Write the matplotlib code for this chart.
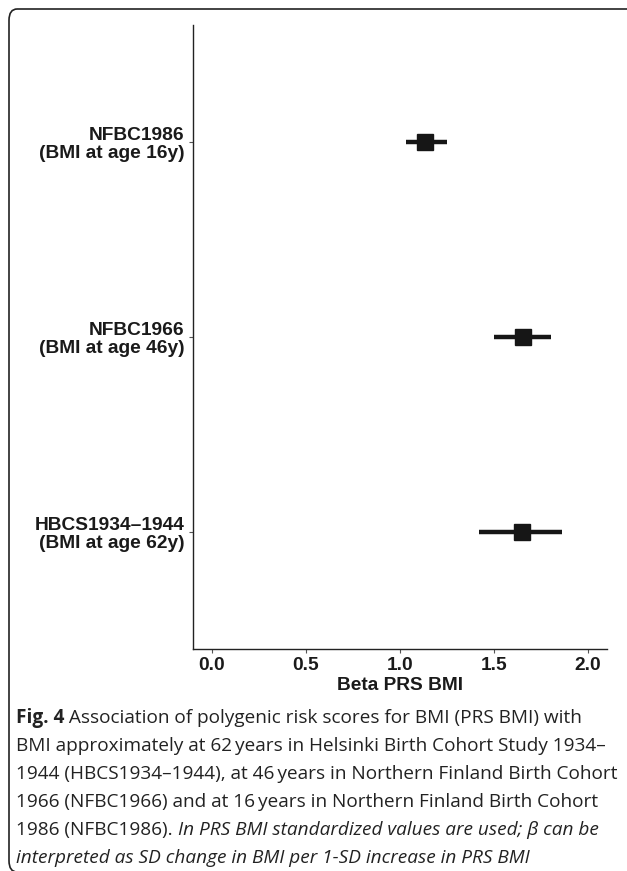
import matplotlib
matplotlib.use("Agg")
from matplotlib import pyplot as plt
from matplotlib.patches import FancyBboxPatch
import numpy as np

# data (top to bottom)
cohorts = ["NFBC1986\n(BMI at age 16y)",
           "NFBC1966\n(BMI at age 46y)",
           "HBCS1934\u20131944\n(BMI at age 62y)"]
beta = [1.135, 1.652, 1.646]
ci_low = [1.03, 1.50, 1.42]
ci_high = [1.25, 1.80, 1.86]
xticks = [0.0, 0.5, 1.0, 1.5, 2.0]

W, H = 627, 871
fig = plt.figure(figsize=(W / 100, H / 100), dpi=100)

# rounded frame around the whole figure (open to the right / bottom)
frame = FancyBboxPatch((9 / W, 1 - 872 / H), (640 - 9) / W, (872 - 9) / H,
                       boxstyle="round,pad=0,rounding_size=0.013",
                       transform=fig.transFigure, fill=False,
                       edgecolor="#222222", linewidth=1.2, clip_on=False)
fig.patches.append(frame)

ax = fig.add_axes([193 / W, 1 - 649 / H, (607 - 193) / W, (649 - 25) / H])
ypos = np.arange(len(cohorts), 0, -1)  # 3, 2, 1 from top

ax.hlines(ypos, ci_low, ci_high, color="#161616", linewidth=3.2)
ax.plot(beta, ypos, "s", color="#161616", markersize=11, linestyle="none")

ax.set_xlim(-0.1, 2.1)
ax.set_ylim(0.4, 3.6)
ax.set_xticks(xticks)
ax.set_xticklabels([f"{t:.1f}" for t in xticks])
ax.set_yticks(ypos)
ax.set_yticklabels(cohorts, linespacing=1.1)

lab_font = dict(family="Liberation Sans", weight="bold", size=13.8)
for lab in ax.get_xticklabels() + ax.get_yticklabels():
    lab.set_fontproperties(matplotlib.font_manager.FontProperties(**lab_font))
    lab.set_color("#1a1a1a")
for lab in ax.get_yticklabels():
    lab.set_horizontalalignment("right")
ax.set_xlabel("Beta PRS BMI", fontdict=lab_font, labelpad=2, color="#1a1a1a")

for s in ["top", "right"]:
    ax.spines[s].set_visible(False)
for s in ["left", "bottom"]:
    ax.spines[s].set_linewidth(1.0)
    ax.spines[s].set_color("#222222")
ax.tick_params(axis="both", length=3, width=0.8, color="#555555", pad=3)

# caption with mixed styles
cap_font = "Open Sans"
cap_size = 13.7
lines = [
    [("Fig. 4", "bold", "normal"),
     (" Association of polygenic risk scores for BMI (PRS BMI) with", "normal", "normal")],
    [("BMI approximately at 62\u2009years in Helsinki Birth Cohort Study 1934\u2013", "normal", "normal")],
    [("1944 (HBCS1934\u20131944), at 46\u2009years in Northern Finland Birth Cohort", "normal", "normal")],
    [("1966 (NFBC1966) and at 16\u2009years in Northern Finland Birth Cohort", "normal", "normal")],
    [("1986 (NFBC1986). ", "normal", "normal"),
     ("In PRS BMI standardized values are used; \u03b2 can be", "normal", "italic")],
    [("interpreted as SD change in BMI per 1-SD increase in PRS BMI", "normal", "italic")],
]
line_y = [718, 746, 774, 802, 830, 858]

renderer = fig.canvas.get_renderer()
for parts, y in zip(lines, line_y):
    x = 16
    for txt, wt, st in parts:
        t = fig.text(x / W, 1 - y / H, txt, family=[cap_font, "DejaVu Sans"],
                     weight=wt, style=st, size=cap_size, va="center",
                     ha="left", color="#222222")
        bb = t.get_window_extent(renderer)
        x = bb.x1

fig.savefig("out.png", dpi=100)
